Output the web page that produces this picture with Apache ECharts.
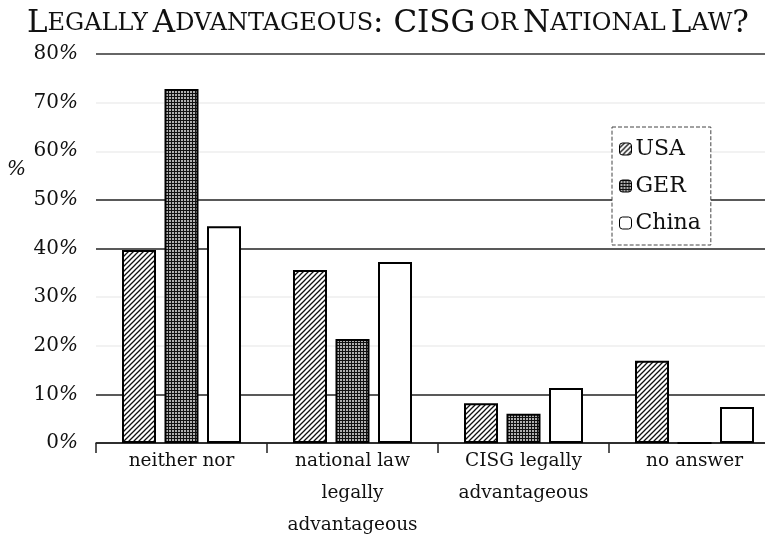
<!DOCTYPE html>
<html>
<head>
<meta charset="utf-8">
<script src="https://cdn.jsdelivr.net/npm/echarts@6/dist/echarts.min.js"></script>
<style>
  html, body { margin: 0; background: #fff; overflow: hidden; }
  /* the scanned plot runs past the right edge of the picture */
  #chart { width: 780px; height: 560px; }
</style>
</head>
<body>
<div id="chart"></div>
<script>
// values (percent)
const categories = ['neither nor', 'national law\nlegally\nadvantageous', 'CISG legally\nadvantageous', 'no answer'];
const usa = [39.7, 35.6, 8.2, 16.9];
const ger = [72.8, 21.4, 6.0, 0];
const china = [44.6, 37.2, 11.3, 7.4];
const yTicks = [0, 10, 20, 30, 40, 50, 60, 70, 80];

const FONT = 'DejaVu Serif';

// hatch "////" for USA
function hatch() {
  const c = document.createElement('canvas');
  c.width = 5; c.height = 5;
  const g = c.getContext('2d');
  g.fillStyle = '#fff'; g.fillRect(0, 0, 5, 5);
  g.strokeStyle = '#111'; g.lineWidth = 1.3;
  g.beginPath();
  g.moveTo(-1, 6); g.lineTo(6, -1);
  g.moveTo(-1, 1); g.lineTo(1, -1);
  g.moveTo(4, 6); g.lineTo(6, 4);
  g.stroke();
  return { image: c, repeat: 'repeat' };
}
// fine grid for GER
function grid() {
  const c = document.createElement('canvas');
  c.width = 3; c.height = 3;
  const g = c.getContext('2d');
  g.fillStyle = '#111'; g.fillRect(0, 0, 3, 3);
  g.fillStyle = '#b0b0b0'; g.fillRect(1, 1, 2, 2);
  return { image: c, repeat: 'repeat' };
}

// strong lines at 0,10,40,50,80 - the others almost faded in the scan
const lineColors = ['#222', '#222', '#eee', '#eee', '#222', '#222', '#eee', '#eee', '#333'];

const chart = echarts.init(document.getElementById('chart'), null, { renderer: 'canvas' });

const barStyle = (color) => ({ color: color, borderColor: '#000', borderWidth: 2 });

chart.setOption({
  animation: false,
  title: {
    left: 22,
    top: 3,
    text: '{b|L}{s|EGALLY} {b|A}{s|DVANTAGEOUS}{b|: CISG} {s|OR} {b|N}{s|ATIONAL} {b|L}{s|AW}{b|?}',
    textStyle: {
      fontWeight: 'normal',
      rich: {
        b: { fontFamily: FONT, fontSize: 31, fontWeight: 'normal', color: '#111' },
        s: { fontFamily: FONT, fontSize: 24, fontWeight: 'normal', color: '#111' }
      }
    }
  },
  graphic: [{
    type: 'text', left: 7, top: 160,
    style: { text: '%', font: 'italic 20px "DejaVu Serif"', fill: '#111' }
  }],
  legend: {
    orient: 'vertical',
    left: 612,
    top: 127,
    width: 100,
    padding: [11, 10, 11, 7],
    itemWidth: 12,
    itemHeight: 12,
    itemGap: 15,
    backgroundColor: '#fff',
    borderColor: '#444',
    borderWidth: 1,
    borderType: 'dashed',
    itemStyle: { borderWidth: 1, borderColor: '#000' },
    textStyle: { fontFamily: FONT, fontSize: 22, color: '#111', padding: [0, 0, 0, -1] }
  },
  grid: { left: 96, right: 0, top: 54, bottom: 117 },
  xAxis: {
    type: 'category',
    data: categories,
    axisLine: { show: true, lineStyle: { color: '#222', width: 1.5 } },
    axisTick: { show: true, length: 10, lineStyle: { color: '#222', width: 1.5 } },
    axisLabel: { fontFamily: FONT, fontSize: 18.5, color: '#111', lineHeight: 32, margin: 2, interval: 0 }
  },
  yAxis: {
    type: 'value',
    min: yTicks[0],
    max: yTicks[yTicks.length - 1],
    interval: 10,
    axisLine: { show: false },
    axisTick: { show: false },
    axisLabel: {
      margin: 18,
      formatter: (v) => '{n|' + v + '}{p|%}',
      rich: {
        n: { fontFamily: FONT, fontSize: 20, color: '#111' },
        p: { fontFamily: FONT, fontSize: 20, fontStyle: 'italic', color: '#111' }
      }
    },
    splitLine: { show: true, lineStyle: { color: lineColors, width: 1.5 } }
  },
  series: [
    { name: 'USA', type: 'bar', data: usa, barWidth: 34, barGap: '25%', itemStyle: barStyle(hatch()) },
    { name: 'GER', type: 'bar', data: ger, barWidth: 34, barGap: '25%', itemStyle: barStyle(grid()) },
    { name: 'China', type: 'bar', data: china, barWidth: 34, barGap: '25%', itemStyle: barStyle('#fff') }
  ]
});
</script>
</body>
</html>
